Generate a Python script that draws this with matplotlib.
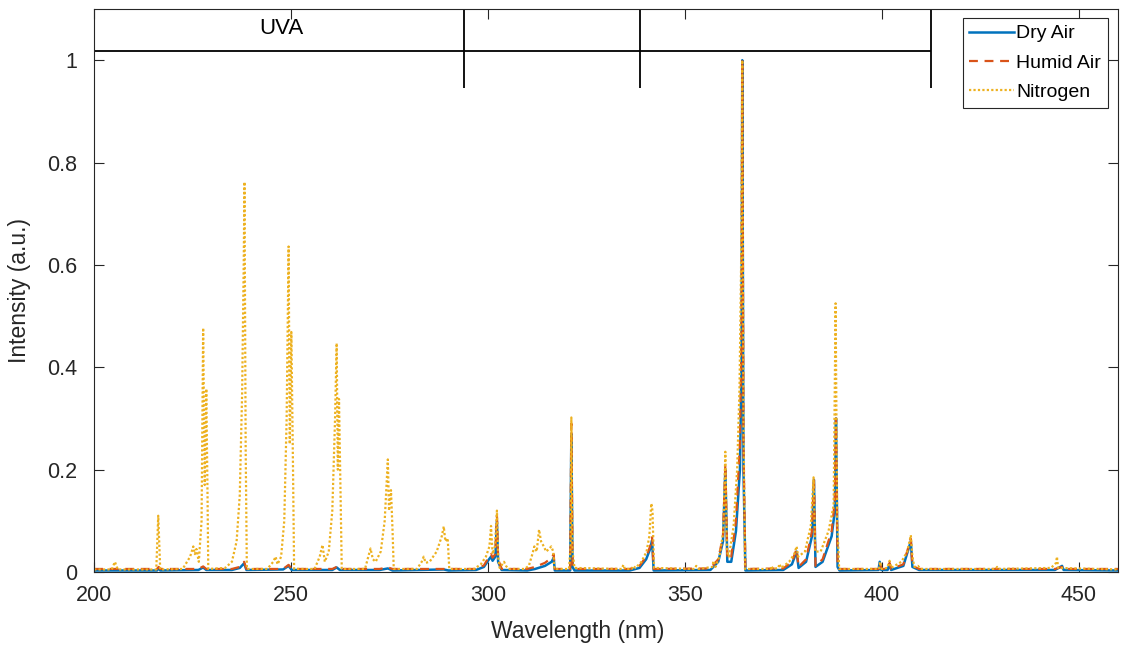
import matplotlib
matplotlib.use("Agg")
import matplotlib.pyplot as plt

plt.rcParams['font.family'] = ['Liberation Sans', 'DejaVu Sans']

# spectra: wavelength (nm) and normalised intensity
dry_wl = [200, 216.0, 216.4, 216.8, 226.5, 227.7, 228.5, 235.0, 237.0, 238.1, 238.7,
          248.0, 249.4, 250.2, 260.5, 261.6, 262.4, 272.5, 274.6, 275.8, 288.8, 290.0,
          297.0, 299.0, 300.3, 300.8, 301.2, 301.9, 302.3, 302.6, 303.5, 310.0, 312.0,
          314.5, 316.2, 316.7, 317.0, 320.9, 321.2, 321.5, 322.0, 336.0, 338.5, 340.2,
          341.2, 341.7, 342.1, 356.5, 358.5, 359.7, 360.3, 360.8, 361.8, 363.0, 364.0,
          364.4, 364.6, 364.9, 365.4, 375.0, 377.2, 378.4, 378.9, 380.8, 382.3, 382.8,
          383.2, 385.0, 387.3, 388.1, 388.4, 388.8, 389.3, 399.2, 399.5, 399.9, 401.5,
          402.0, 402.4, 405.5, 407.4, 407.8, 409.5, 444.0, 445.8, 446.2, 460]
dry_int = [0.003, 0.003, 0.008, 0.003, 0.004, 0.009, 0.004, 0.004, 0.008, 0.017, 0.004,
           0.005, 0.012, 0.004, 0.004, 0.009, 0.004, 0.004, 0.007, 0.003, 0.005, 0.003,
           0.004, 0.010, 0.025, 0.030, 0.022, 0.030, 0.100, 0.020, 0.004, 0.003, 0.006,
           0.012, 0.020, 0.028, 0.003, 0.003, 0.270, 0.010, 0.003, 0.003, 0.008, 0.025,
           0.045, 0.062, 0.003, 0.004, 0.020, 0.060, 0.200, 0.020, 0.020, 0.080, 0.200,
           0.400, 1.000, 0.200, 0.003, 0.004, 0.015, 0.040, 0.008, 0.020, 0.070, 0.180,
           0.010, 0.020, 0.070, 0.120, 0.300, 0.010, 0.003, 0.004, 0.020, 0.004, 0.004,
           0.015, 0.004, 0.012, 0.060, 0.010, 0.004, 0.004, 0.012, 0.004, 0.003]

humid_wl = [200, 216.0, 216.4, 216.8, 226.5, 227.7, 228.5, 235.0, 237.0, 238.1, 238.7,
            248.0, 249.4, 250.2, 260.5, 261.6, 262.4, 272.5, 274.6, 275.8, 297.0, 299.0,
            300.3, 300.8, 301.2, 301.9, 302.3, 302.6, 303.5, 310.0, 312.0, 314.5, 316.2,
            316.7, 317.0, 320.9, 321.2, 321.5, 322.0, 336.0, 338.5, 340.2, 341.2, 341.7,
            342.1, 356.5, 358.5, 359.7, 360.3, 360.8, 361.8, 363.0, 364.0, 364.4, 364.6,
            364.9, 365.4, 375.0, 377.2, 378.4, 378.9, 380.8, 382.3, 382.8, 383.2, 385.0,
            387.3, 388.1, 388.4, 388.8, 389.3, 399.2, 399.5, 400.0, 401.5, 402.0, 402.4,
            405.5, 407.4, 407.8, 409.5, 444.0, 445.8, 446.2, 460]
humid_int = [0.006, 0.006, 0.010, 0.006, 0.006, 0.011, 0.006, 0.006, 0.010, 0.020, 0.006,
             0.006, 0.014, 0.006, 0.006, 0.010, 0.006, 0.006, 0.009, 0.006, 0.006, 0.013,
             0.030, 0.035, 0.028, 0.035, 0.110, 0.025, 0.006, 0.006, 0.010, 0.018, 0.028,
             0.035, 0.006, 0.006, 0.290, 0.012, 0.006, 0.006, 0.012, 0.030, 0.050, 0.068,
             0.006, 0.007, 0.025, 0.070, 0.210, 0.025, 0.030, 0.100, 0.250, 0.450, 1.000,
             0.250, 0.006, 0.007, 0.020, 0.045, 0.010, 0.025, 0.080, 0.185, 0.012, 0.025,
             0.080, 0.140, 0.300, 0.012, 0.006, 0.006, 0.018, 0.006, 0.006, 0.018, 0.006,
             0.015, 0.065, 0.012, 0.006, 0.006, 0.010, 0.006, 0.006]

n2_wl = [200, 204.5, 205.3, 206.0, 215.8, 216.3, 216.8, 222.5, 224.4, 225.2, 225.6, 226.0,
         226.6, 227.3, 227.7, 228.1, 228.5, 228.8, 229.0, 233.3, 235.0, 236.2, 237.0, 237.6,
         238.0, 238.2, 238.5, 238.8, 244.0, 245.5, 246.1, 246.6, 247.5, 248.3, 248.9, 249.4,
         249.7, 250.1, 250.5, 250.8, 256.0, 257.3, 258.0, 258.6, 259.6, 260.5, 261.2, 261.6,
         261.9, 262.2, 262.6, 262.9, 268.8, 270.2, 270.8, 271.5, 272.8, 273.8, 274.6, 274.9,
         275.4, 275.8, 276.1, 282.0, 283.2, 283.7, 284.2, 285.2, 287.0, 288.3, 288.8, 289.2,
         289.8, 290.2, 296.5, 298.2, 299.5, 300.4, 300.8, 301.2, 301.8, 302.3, 302.6, 303.0,
         304.1, 304.6, 305.2, 309.3, 310.4, 311.3, 311.8, 312.4, 313.0, 313.5, 314.2, 314.8,
         315.5, 316.1, 316.6, 316.9, 320.6, 321.0, 321.2, 321.5, 322.0, 334.0, 334.4, 334.8,
         336.5, 336.9, 337.5, 339.0, 340.3, 341.0, 341.5, 341.8, 342.2, 352.5, 352.9, 353.5,
         357.0, 357.3, 357.8, 358.8, 359.8, 360.3, 360.7, 361.2, 362.4, 363.3, 363.9, 364.3,
         364.6, 364.9, 365.3, 371.8, 372.0, 372.4, 373.8, 374.0, 374.5, 376.5, 377.8, 378.4,
         378.8, 380.5, 382.0, 382.7, 383.1, 384.5, 386.5, 387.8, 388.3, 388.7, 389.2, 399.3,
         399.6, 400.0, 401.4, 402.0, 402.4, 405.0, 406.5, 407.4, 407.8, 408.3, 409.2, 409.9,
         429.0, 429.3, 429.7, 443.0, 444.3, 444.5, 444.8, 460]
n2_int = [0.005, 0.005, 0.020, 0.005, 0.005, 0.110, 0.005, 0.006, 0.030, 0.050, 0.035, 0.045,
          0.020, 0.100, 0.477, 0.170, 0.358, 0.160, 0.006, 0.008, 0.020, 0.060, 0.150, 0.350,
          0.600, 0.762, 0.240, 0.006, 0.006, 0.020, 0.030, 0.015, 0.030, 0.100, 0.300, 0.636,
          0.250, 0.469, 0.216, 0.006, 0.006, 0.030, 0.053, 0.020, 0.040, 0.120, 0.300, 0.447,
          0.200, 0.338, 0.147, 0.006, 0.006, 0.046, 0.025, 0.020, 0.040, 0.100, 0.220, 0.120,
          0.160, 0.080, 0.006, 0.006, 0.020, 0.030, 0.018, 0.020, 0.040, 0.070, 0.089, 0.060,
          0.066, 0.006, 0.006, 0.015, 0.030, 0.050, 0.090, 0.035, 0.050, 0.120, 0.030, 0.008,
          0.020, 0.012, 0.006, 0.006, 0.012, 0.035, 0.050, 0.040, 0.083, 0.060, 0.050, 0.040,
          0.045, 0.050, 0.040, 0.006, 0.006, 0.050, 0.302, 0.040, 0.008, 0.006, 0.014, 0.006,
          0.006, 0.012, 0.008, 0.020, 0.040, 0.070, 0.134, 0.120, 0.008, 0.006, 0.012, 0.006,
          0.010, 0.022, 0.010, 0.030, 0.080, 0.235, 0.040, 0.030, 0.090, 0.200, 0.360, 0.600,
          1.000, 0.300, 0.006, 0.006, 0.012, 0.006, 0.008, 0.016, 0.008, 0.020, 0.035, 0.050,
          0.030, 0.040, 0.090, 0.185, 0.040, 0.040, 0.080, 0.130, 0.525, 0.100, 0.006, 0.006,
          0.020, 0.006, 0.008, 0.022, 0.008, 0.020, 0.040, 0.072, 0.030, 0.010, 0.012, 0.006,
          0.006, 0.010, 0.006, 0.008, 0.018, 0.030, 0.008, 0.005]

band_edges = [294.0, 338.7, 412.4]
band_label = "UVA"
x_ticks = [200, 250, 300, 350, 400, 450]
y_ticks = [0, 0.2, 0.4, 0.6, 0.8, 1]
y_tick_labels = ["0", "0.2", "0.4", "0.6", "0.8", "1"]

fig = plt.figure(figsize=(11.21, 6.49), dpi=100)
ax = fig.add_axes([0.0839, 0.1186, 0.9134, 0.8675])

ax.plot(dry_wl, dry_int, color='#0072BD', lw=1.8, label='Dry Air')
ax.plot(humid_wl, humid_int, color='#D95319', lw=1.6, ls=(0, (4, 3)), label='Humid Air')
ax.plot(n2_wl, n2_int, color='#EDB120', lw=1.6, ls=(0, (1, 1)), label='Nitrogen')

# band markers above the spectra
ax.hlines(1.018, 200, band_edges[-1], color='black', lw=1.3)
ax.vlines(band_edges, 0.946, 1.1, color='black', lw=1.3)
ax.text(247.5, 1.062, band_label, fontsize=16, ha='center', va='center', color='black')

ax.set_xlim(200, 460)
ax.set_ylim(0, 1.1)
ax.set_xticks(x_ticks)
ax.set_yticks(y_ticks)
ax.set_yticklabels(y_tick_labels)
ax.tick_params(direction='in', top=True, right=True, length=7, width=0.8,
               labelsize=15.5, colors='#262626')
ax.tick_params(axis='y', pad=12)
ax.tick_params(axis='x', pad=9)
for s in ax.spines.values():
    s.set_color('#262626')
    s.set_linewidth(0.8)

ax.set_xlabel('Wavelength (nm)', fontsize=16.5, color='#262626')
ax.xaxis.set_label_coords(0.472, -0.085)
ax.set_ylabel('Intensity (a.u.)', fontsize=16.5, color='#262626', labelpad=12)

leg = ax.legend(loc='upper right', bbox_to_anchor=(0.990, 0.984), borderaxespad=0,
                fontsize=14, fancybox=False, edgecolor='#262626', framealpha=1,
                handlelength=2.3, handletextpad=0.1, labelspacing=0.6, borderpad=0.35)
leg.get_frame().set_linewidth(0.8)

fig.savefig('out.png', dpi=100)
